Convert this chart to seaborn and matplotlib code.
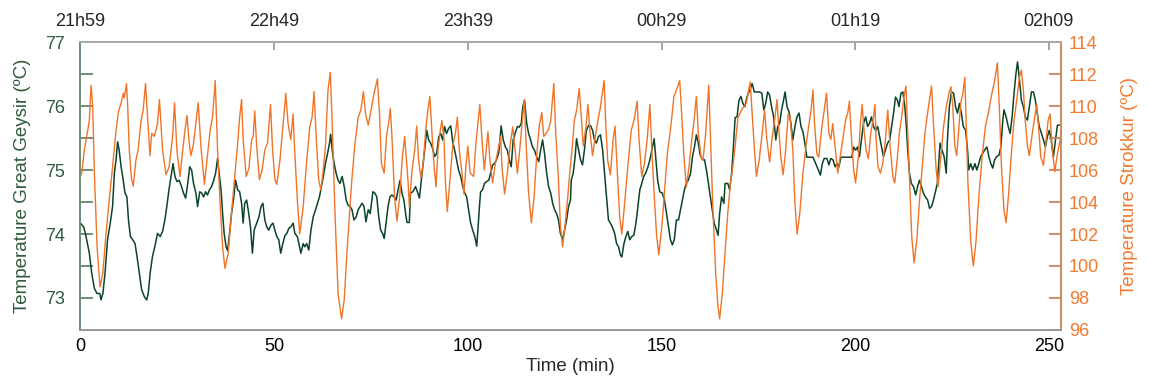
import numpy as np
import matplotlib
matplotlib.use("Agg")
import matplotlib.pyplot as plt
import seaborn as sns

# Strokkur (orange, right axis) - time in minutes, temperature in ºC
strokkur_t = [
    0.0, 0.35, 1.0, 1.9, 2.3, 2.74, 3.17, 3.6, 4.3, 5.06,
    5.75, 6.6, 7.5, 8.3, 9.2, 9.8, 10.5, 11.1, 11.3, 11.9,
    12.2, 12.6, 13.2, 13.65, 14.3, 14.9, 15.6, 16.2, 16.8, 17.35,
    17.95, 18.4, 19.1, 19.9, 20.4, 21.2, 22.1, 22.9, 23.8, 24.3,
    24.9, 25.7, 26.4, 27.0, 27.5, 28.0, 28.5, 29.1, 29.8, 30.4,
    31.1, 32.0, 32.65, 33.5, 34.1, 34.8, 35.4, 36.1, 36.7, 37.3,
    38.15, 39.0, 39.9, 40.6, 41.1, 41.6, 42.0, 42.8, 43.5, 44.2,
    44.6, 45.0, 45.5, 46.2, 46.9, 47.6, 48.3, 49.07, 49.6, 50.2,
    50.7, 51.5, 52.1, 52.5, 53.0, 53.6, 54.3, 54.9, 55.3, 56.0,
    56.6, 57.5, 58.35, 59.2, 59.8, 60.3, 60.9, 61.5, 62.05, 62.6,
    63.25, 63.9, 64.5, 65.0, 65.65, 66.5, 67.4, 68.1, 68.9, 70.0,
    70.8, 71.7, 72.4, 73.05, 73.6, 74.3, 74.9, 75.8, 76.66, 77.2,
    77.7, 78.4, 79.0, 79.6, 80.0, 80.45, 81.1, 81.7, 82.4, 83.1,
    83.7, 84.6, 84.9, 85.6, 86.3, 86.8, 87.3, 87.9, 88.5, 89.2,
    89.7, 90.2, 90.75, 91.3, 91.8, 92.3, 92.8, 93.3, 93.85, 94.2,
    94.7, 95.4, 96.1, 96.8, 97.3, 97.8, 98.5, 99.0, 99.5, 100.0,
    100.6, 101.5, 102.1, 102.6, 103.1, 103.65, 104.25, 104.85, 105.2, 105.7,
    106.4, 107.1, 107.8, 108.5, 108.8, 109.5, 110.2, 110.9, 111.6, 112.2,
    112.8, 113.4, 114.0, 114.6, 115.0, 115.7, 116.4, 117.1, 117.75, 118.4,
    119.1, 119.6, 120.2, 120.8, 121.4, 122.2, 122.7, 123.4, 123.9, 124.45,
    125.1, 125.8, 126.3, 126.9, 127.5, 128.1, 128.75, 129.3, 129.8, 130.5,
    131.0, 131.5, 132.2, 132.9, 133.6, 134.25, 134.6, 135.2, 135.6, 136.1,
    136.8, 137.5, 138.0, 138.6, 139.2, 139.75, 140.4, 141.3, 142.2, 142.9,
    143.7, 144.2, 144.9, 145.6, 146.3, 147.0, 147.5, 148.2, 148.7, 149.3,
    150.1, 150.8, 151.5, 152.4, 153.2, 153.85, 154.7, 155.2, 155.8, 156.4,
    157.1, 157.8, 158.4, 159.0, 159.5, 160.2, 160.7, 161.4, 162.2, 162.6,
    163.3, 164.0, 164.5, 165.0, 165.7, 166.4, 167.1, 167.8, 168.5, 168.9,
    169.75, 170.9, 171.9, 172.9, 173.4, 174.0, 174.5, 175.2, 175.9, 176.6,
    177.2, 177.9, 178.6, 179.3, 179.8, 180.3, 180.8, 181.4, 182.05, 182.7,
    183.2, 183.9, 184.4, 185.0, 185.7, 186.5, 187.4, 188.1, 188.7, 189.1,
    189.5, 190.1, 190.6, 191.3, 192.0, 192.6, 193.2, 193.7, 194.2, 194.8,
    195.5, 196.1, 196.8, 197.5, 198.1, 198.5, 199.1, 199.6, 200.1, 200.8,
    201.4, 201.8, 202.2, 202.8, 203.4, 204.0, 204.6, 205.1, 205.4, 205.9,
    206.5, 207.1, 207.8, 208.4, 209.0, 209.7, 210.2, 210.9, 211.4, 212.1,
    212.6, 213.1, 213.5, 214.0, 214.6, 215.2, 215.9, 216.6, 217.3, 218.0,
    218.65, 219.2, 219.7, 220.2, 220.9, 221.4, 222.1, 222.8, 223.5, 224.2,
    224.7, 225.2, 225.7, 226.2, 226.7, 227.25, 227.8, 228.3, 228.6, 229.1,
    229.8, 230.5, 231.2, 231.9, 232.75, 233.6, 234.5, 235.3, 236.0, 236.7,
    237.2, 237.75, 238.4, 238.95, 239.6, 240.3, 241.0, 241.7, 242.4, 242.9,
    243.4, 243.9, 244.45, 244.96, 245.6, 246.2, 246.85, 247.4, 247.9, 248.6,
    249.3, 249.8, 250.3, 250.8, 251.5, 252.2, 252.9,
]
strokkur_temp = [
    105.6, 105.8, 107.25, 108.5, 109.1, 111.3, 110.0, 105.8, 101.2, 98.7,
    99.5, 102.0, 104.3, 106.2, 108.5, 109.6, 110.2, 110.8, 110.5, 111.4,
    110.0, 107.25, 105.4, 105.0, 106.6, 107.25, 109.0, 109.75, 111.4, 109.3,
    106.9, 108.3, 108.1, 108.9, 110.4, 107.25, 105.7, 106.2, 108.1, 110.2,
    107.25, 105.6, 107.25, 108.5, 109.4, 107.9, 106.9, 107.5, 108.9, 110.2,
    107.5, 105.1, 106.6, 108.5, 109.3, 111.6, 107.25, 103.7, 101.2, 99.85,
    100.8, 103.3, 105.8, 107.7, 109.3, 110.4, 107.9, 105.6, 106.1, 107.9,
    108.1, 109.7, 107.5, 105.4, 106.0, 107.25, 107.7, 110.1, 107.25, 105.4,
    105.1, 106.6, 108.3, 109.3, 110.8, 108.9, 107.9, 109.5, 107.25, 104.1,
    102.0, 103.7, 106.4, 108.7, 109.3, 110.9, 107.9, 105.4, 104.75, 105.8,
    107.5, 111.0, 112.1, 108.9, 103.7, 98.3, 96.7, 97.9, 101.2, 105.2,
    107.5, 109.3, 109.75, 110.9, 109.5, 108.8, 109.6, 110.8, 111.7, 109.5,
    106.4, 105.8, 108.1, 109.0, 109.85, 107.9, 104.3, 102.8, 104.3, 106.8,
    108.1, 105.2, 103.7, 106.0, 107.25, 108.75, 106.6, 105.5, 106.4, 108.7,
    109.75, 110.6, 108.3, 106.2, 104.95, 107.25, 108.3, 109.1, 107.9, 105.4,
    103.4, 105.4, 107.5, 108.3, 109.3, 107.25, 105.8, 104.5, 106.2, 107.5,
    105.8, 105.6, 107.7, 108.9, 110.1, 107.9, 106.0, 107.5, 108.4, 106.6,
    105.2, 106.4, 107.25, 108.1, 106.2, 104.5, 105.8, 107.5, 108.7, 107.25,
    105.8, 107.25, 108.9, 110.4, 107.9, 104.5, 102.7, 104.3, 106.8, 108.7,
    109.6, 108.1, 108.3, 108.5, 109.1, 111.4, 108.3, 105.4, 102.5, 101.2,
    102.5, 104.3, 105.8, 107.25, 109.1, 109.75, 111.1, 109.3, 107.5, 108.7,
    110.1, 108.5, 106.9, 108.1, 109.1, 109.95, 110.6, 111.6, 108.9, 106.6,
    105.7, 107.9, 108.75, 105.8, 103.1, 102.0, 103.7, 106.2, 108.5, 109.1,
    110.3, 107.9, 105.6, 106.4, 107.9, 110.1, 107.25, 104.1, 102.0, 100.7,
    102.5, 104.75, 107.0, 108.7, 110.6, 111.0, 111.6, 109.5, 106.8, 104.95,
    106.2, 107.9, 109.1, 110.6, 108.3, 106.8, 106.6, 108.3, 111.3, 108.3,
    103.3, 99.5, 97.7, 96.7, 98.3, 100.8, 103.3, 105.2, 106.4, 107.25,
    109.3, 109.85, 110.2, 111.5, 109.5, 107.25, 105.6, 106.6, 108.1, 109.75,
    107.9, 106.5, 108.1, 109.3, 110.4, 108.5, 106.8, 105.7, 107.25, 109.5,
    109.3, 107.25, 104.1, 102.0, 103.3, 105.8, 107.7, 108.9, 109.95, 111.0,
    108.9, 107.0, 106.8, 108.5, 109.75, 110.8, 108.3, 107.9, 108.9, 107.5,
    105.8, 106.8, 107.9, 109.1, 109.6, 110.3, 107.7, 106.0, 105.2, 106.8,
    109.1, 110.1, 108.7, 107.25, 106.7, 108.3, 109.1, 110.1, 107.9, 106.2,
    105.8, 106.4, 107.9, 109.75, 107.5, 105.6, 105.2, 106.8, 108.3, 109.5,
    110.6, 111.25, 108.7, 105.4, 101.8, 100.2, 101.6, 104.1, 106.2, 108.3,
    109.5, 110.4, 111.25, 108.9, 106.0, 104.95, 106.8, 108.7, 109.95, 110.8,
    111.2, 109.95, 107.5, 106.9, 108.5, 110.2, 110.8, 111.8, 109.3, 105.2,
    101.6, 100.0, 101.6, 104.3, 106.8, 108.7, 109.75, 110.8, 111.6, 112.7,
    109.95, 106.2, 103.5, 102.7, 104.5, 107.0, 109.1, 110.4, 111.8, 112.25,
    111.0, 109.1, 107.5, 106.9, 108.1, 109.1, 110.1, 108.5, 106.8, 106.3,
    107.9, 109.1, 109.5, 107.5, 105.9, 107.0, 107.9,
]

# Great Geysir (dark green, left axis)
geysir_t = [
    0.0, 0.85, 1.45, 2.3, 2.9, 3.6, 4.3, 5.0, 5.3, 5.8,
    6.35, 7.0, 7.7, 8.3, 8.75, 9.2, 9.6, 10.0, 10.5, 10.9,
    11.5, 12.0, 12.4, 12.9, 13.5, 14.1, 14.6, 15.2, 15.8, 16.5,
    17.1, 17.5, 18.0, 18.6, 19.2, 19.9, 20.6, 21.2, 21.8, 22.3,
    22.85, 23.4, 23.9, 24.4, 24.9, 25.5, 26.1, 26.6, 27.15, 27.7,
    28.2, 28.7, 29.2, 29.8, 30.25, 30.8, 31.3, 31.8, 32.3, 32.8,
    33.3, 33.85, 34.4, 34.9, 35.4, 35.8, 36.3, 36.7, 37.1, 37.6,
    38.0, 38.5, 39.0, 39.5, 40.05, 40.6, 41.1, 41.6, 42.0, 42.4,
    42.9, 43.3, 43.9, 44.4, 44.85, 45.5, 46.1, 46.6, 47.1, 47.6,
    48.1, 48.6, 49.2, 49.7, 50.2, 50.7, 51.2, 51.7, 52.25, 52.8,
    53.3, 53.8, 54.3, 54.9, 55.35, 56.0, 56.4, 56.9, 57.5, 57.9,
    58.4, 58.95, 59.5, 60.1, 60.7, 61.2, 61.7, 62.2, 62.7, 63.25,
    63.8, 64.3, 64.6, 65.0, 65.5, 66.0, 66.5, 67.0, 67.55, 68.1,
    68.6, 69.1, 69.6, 70.1, 70.6, 71.2, 71.7, 72.2, 72.7, 73.2,
    73.7, 74.3, 74.8, 75.5, 76.0, 76.5, 77.0, 77.5, 78.0, 78.4,
    78.9, 79.4, 79.9, 80.4, 80.95, 81.5, 82.0, 82.5, 83.0, 83.5,
    84.05, 84.3, 84.9, 85.2, 85.8, 86.5, 87.0, 87.5, 88.0, 88.35,
    88.9, 89.4, 89.9, 90.4, 90.9, 91.45, 91.96, 92.5, 93.0, 93.5,
    94.0, 94.5, 95.05, 95.6, 96.1, 96.6, 97.1, 97.6, 98.15, 98.7,
    99.2, 99.7, 100.2, 100.7, 101.25, 101.8, 102.3, 102.6, 103.0, 103.3,
    103.8, 104.3, 104.85, 105.4, 105.9, 106.4, 106.9, 107.4, 107.95, 108.3,
    108.6, 109.15, 109.7, 110.2, 110.7, 111.2, 111.7, 112.2, 112.8, 113.3,
    113.8, 114.2, 114.65, 115.2, 115.7, 116.2, 116.7, 117.2, 117.75, 118.3,
    118.8, 119.3, 119.8, 120.35, 120.85, 121.4, 121.9, 122.4, 122.9, 123.4,
    123.9, 124.45, 124.95, 125.5, 126.0, 126.5, 126.7, 127.2, 127.7, 128.06,
    128.6, 129.1, 129.6, 130.1, 130.6, 131.2, 131.7, 132.2, 132.7, 133.2,
    133.7, 134.25, 134.8, 135.3, 135.8, 136.3, 136.8, 137.3, 137.9, 138.4,
    138.9, 139.4, 139.75, 140.3, 140.8, 141.3, 141.8, 142.3, 142.85, 143.4,
    143.9, 144.4, 144.9, 145.4, 145.9, 146.5, 147.0, 147.5, 148.1, 148.5,
    149.0, 149.55, 150.2, 150.75, 151.3, 151.8, 152.3, 152.8, 153.3, 153.85,
    154.4, 154.9, 155.4, 155.9, 156.4, 156.9, 157.5, 158.0, 158.5, 159.0,
    159.5, 160.0, 160.6, 161.1, 161.6, 162.1, 162.6, 163.1, 163.6, 164.2,
    164.6, 165.0, 165.5, 166.1, 166.4, 167.1, 167.6, 168.1, 168.5, 169.0,
    169.5, 170.0, 170.5, 171.0, 171.5, 172.1, 172.8, 173.4, 173.95, 174.6,
    175.3, 175.9, 176.4, 176.9, 177.4, 177.9, 178.4, 178.95, 179.5, 180.0,
    180.5, 181.0, 181.5, 181.9, 182.4, 182.9, 183.4, 183.9, 184.45, 184.95,
    185.5, 186.0, 186.5, 187.0, 187.5, 189.1, 189.8, 190.5, 191.0, 191.5,
    192.0, 192.7, 193.2, 193.7, 194.25, 194.8, 195.3, 195.8, 196.3, 199.1,
    199.6, 200.1, 200.6, 201.1, 201.6, 202.15, 202.7, 203.2, 203.7, 204.2,
    204.7, 205.25, 205.8, 206.3, 206.8, 207.3, 207.8, 208.35, 208.9, 209.4,
    209.9, 210.4, 210.9, 211.3, 211.8, 212.3, 212.8, 213.2, 213.5, 214.0,
    214.5, 215.05, 215.6, 216.1, 216.6, 217.1, 217.6, 218.1, 218.7, 219.2,
    219.7, 220.2, 220.7, 221.2, 221.6, 221.9, 222.4, 222.95, 223.5, 223.8,
    224.3, 224.85, 225.4, 225.9, 226.4, 226.9, 227.4, 227.9, 228.5, 229.0,
    229.3, 229.8, 230.35, 230.9, 231.4, 231.9, 232.4, 232.9, 233.4, 234.0,
    234.5, 235.0, 235.5, 236.0, 236.5, 237.1, 237.6, 238.1, 238.4, 238.95,
    239.5, 240.0, 240.5, 241.0, 241.5, 241.9, 242.4, 242.9, 243.4, 243.9,
    244.45, 244.96, 245.5, 246.0, 246.5, 247.0, 247.5, 248.1, 248.6, 249.1,
    249.6, 250.1, 250.6, 251.15, 251.7, 252.2, 252.7,
]
geysir_temp = [
    74.17, 74.11, 73.96, 73.70, 73.39, 73.15, 73.07, 73.07, 72.97, 73.07,
    73.39, 73.91, 74.17, 74.43, 74.95, 75.16, 75.44, 75.31, 75.05, 74.90,
    74.64, 74.58, 74.22, 73.96, 73.91, 73.85, 73.65, 73.39, 73.13, 73.02,
    72.97, 73.07, 73.39, 73.65, 73.80, 74.01, 73.96, 74.04, 74.22, 74.43,
    74.69, 74.90, 75.10, 74.90, 74.82, 74.84, 74.74, 74.64, 74.56, 74.79,
    75.05, 75.0, 74.79, 74.64, 74.43, 74.66, 74.64, 74.58, 74.66, 74.61,
    74.69, 74.74, 74.84, 74.95, 75.18, 74.95, 74.69, 74.32, 74.01, 73.80,
    73.74, 74.01, 74.32, 74.53, 74.84, 74.69, 74.66, 74.48, 74.17, 74.48,
    74.53, 74.38, 74.11, 73.70, 74.06, 74.17, 74.27, 74.43, 74.48, 74.22,
    74.11, 74.06, 74.14, 74.17, 74.06, 73.96, 73.91, 73.70, 73.85, 73.98,
    74.01, 74.09, 74.11, 74.17, 74.01, 73.96, 73.85, 73.70, 73.85, 73.80,
    73.85, 73.75, 74.06, 74.27, 74.38, 74.48, 74.58, 74.74, 74.90, 75.10,
    75.26, 75.42, 75.56, 75.31, 75.10, 74.95, 74.84, 74.79, 74.90, 74.74,
    74.53, 74.45, 74.43, 74.38, 74.22, 74.27, 74.38, 74.43, 74.48, 74.43,
    74.19, 74.38, 74.32, 74.66, 74.64, 74.58, 74.27, 74.06, 74.01, 73.93,
    74.17, 74.43, 74.58, 74.61, 74.58, 74.53, 74.69, 74.84, 74.64, 74.53,
    74.27, 74.18, 74.18, 74.64, 74.66, 74.74, 74.66, 74.56, 74.84, 75.05,
    75.36, 75.62, 75.47, 75.42, 75.34, 75.21, 75.26, 75.52, 75.57, 75.47,
    75.68, 75.57, 75.65, 75.69, 75.44, 75.31, 75.16, 75.0, 74.90, 74.74,
    74.64, 74.58, 74.38, 74.18, 74.06, 73.96, 73.81, 74.06, 74.43, 74.66,
    74.69, 74.79, 74.82, 74.84, 74.95, 75.08, 75.10, 75.16, 75.26, 75.47,
    75.69, 75.47, 75.36, 75.31, 75.16, 75.05, 75.47, 75.57, 75.68, 75.67,
    75.73, 75.99, 76.09, 75.73, 75.57, 75.47, 75.36, 75.31, 75.21, 75.13,
    75.31, 75.47, 75.26, 74.95, 74.74, 74.64, 74.48, 74.38, 74.32, 74.22,
    74.01, 73.91, 74.06, 74.22, 74.43, 74.53, 74.84, 74.95, 75.21, 75.49,
    75.31, 75.16, 75.08, 75.31, 75.62, 75.70, 75.69, 75.62, 75.47, 75.42,
    75.52, 75.55, 75.31, 74.95, 74.58, 74.22, 74.17, 74.11, 74.01, 73.85,
    73.80, 73.67, 73.64, 73.85, 73.96, 74.04, 73.91, 73.96, 73.98, 74.17,
    74.43, 74.69, 74.79, 74.90, 74.95, 75.05, 75.16, 75.31, 75.49, 75.21,
    74.84, 74.66, 74.64, 74.53, 74.32, 74.11, 73.91, 73.83, 73.91, 74.22,
    74.22, 74.38, 74.53, 74.69, 74.79, 74.84, 74.95, 75.21, 75.36, 75.55,
    75.42, 75.23, 75.16, 75.16, 75.0, 74.79, 74.58, 74.38, 74.17, 74.06,
    73.98, 74.32, 74.58, 74.48, 74.79, 74.79, 74.69, 74.95, 75.31, 75.82,
    75.83, 76.09, 76.15, 76.04, 75.99, 76.15, 76.25, 76.35, 76.22, 76.22,
    76.22, 76.20, 75.94, 76.04, 76.22, 76.17, 75.99, 75.83, 75.47, 75.68,
    75.73, 75.94, 76.09, 76.22, 75.99, 75.91, 75.73, 75.47, 75.68, 75.83,
    75.89, 75.68, 75.60, 75.42, 75.20, 75.20, 75.10, 75.0, 74.92, 75.10,
    75.18, 75.18, 75.08, 75.18, 75.16, 75.05, 75.10, 75.05, 75.20, 75.20,
    75.36, 75.31, 75.36, 75.21, 75.47, 75.73, 75.83, 75.68, 75.73, 75.83,
    75.68, 75.62, 75.68, 75.52, 75.36, 75.21, 75.31, 75.42, 75.47, 75.68,
    75.89, 76.14, 76.09, 75.99, 76.20, 76.22, 75.99, 75.68, 75.36, 74.95,
    74.79, 74.74, 74.61, 74.74, 74.84, 74.74, 74.64, 74.58, 74.53, 74.40,
    74.43, 74.53, 74.66, 74.79, 75.16, 75.42, 75.31, 75.21, 74.95, 75.47,
    75.99, 76.22, 76.20, 75.99, 75.89, 76.04, 75.89, 75.68, 75.62, 75.31,
    75.0, 75.10, 75.0, 75.10, 75.0, 75.10, 75.21, 75.26, 75.31, 75.36,
    75.21, 75.10, 75.03, 75.16, 75.21, 75.23, 75.36, 75.78, 75.94, 75.83,
    75.68, 75.57, 75.83, 76.20, 76.51, 76.69, 76.41, 76.09, 75.99, 75.83,
    75.78, 75.99, 76.22, 76.22, 76.09, 75.89, 75.68, 75.57, 75.47, 75.36,
    75.52, 75.62, 75.47, 75.20, 75.47, 75.70, 75.70,
]

time_ticks = [0, 50, 100, 150, 200, 250]
clock_labels = ["21h59", "22h49", "23h39", "00h29", "01h19", "02h09"]

green = "#0b4428"
orange = "#f07428"
green_txt = "#2f5a3c"
orange_txt = "#f07a30"

sns.set_theme(style="white")
plt.rcParams["font.family"] = ["Liberation Sans Narrow", "Liberation Sans", "DejaVu Sans"]

fig = plt.figure(figsize=(11.49, 3.83), dpi=100)
ax = fig.add_axes([0.0700, 0.1384, 0.8530, 0.7519])
ax2 = ax.twinx()

sns.lineplot(x=geysir_t, y=geysir_temp, ax=ax, color=green, linewidth=1.1)
sns.lineplot(x=strokkur_t, y=strokkur_temp, ax=ax2, color=orange, linewidth=1.0)

ax.set_xlim(0, 253)
ax.set_ylim(72.5, 77)
ax2.set_ylim(96, 114)

ax.set_xticks(time_ticks)
ax.set_xticklabels([str(t) for t in time_ticks])
yt = np.arange(73, 77.01, 0.5)
ax.set_yticks(yt)
ax.set_yticklabels([f"{v:.0f}" if v == int(v) else "" for v in yt])
ax2.set_yticks(np.arange(96, 114.1, 2))

ax.tick_params(axis="x", direction="in", length=6, top=True, labelsize=13,
               colors="#999999", labelcolor="black", pad=6)
ax.tick_params(axis="y", direction="in", length=9, labelsize=13,
               colors="#5f7f68", labelcolor=green_txt, pad=11)
ax2.tick_params(axis="y", direction="in", length=9, labelsize=13,
                colors="#d08050", labelcolor=orange_txt, pad=6)

ax.set_xlabel("Time (min)", fontsize=13.5, labelpad=2)
ax.set_ylabel("Temperature Great Geysir (ºC)", fontsize=13.5, color=green_txt, labelpad=10)
ax2.set_ylabel("Temperature Strokkur (ºC)", fontsize=13.5, color=orange_txt, labelpad=16)

top = ax.secondary_xaxis("top")
top.set_xticks(time_ticks)
top.set_xticklabels(clock_labels)
top.tick_params(length=0, labelsize=13, pad=9)

for a in (ax, ax2):
    a.spines["top"].set_color("#aaaaaa")
    a.spines["bottom"].set_color("#999999")
    a.spines["left"].set_color("#6f8f78")
    a.spines["right"].set_color("#d08a5a")
top.spines["top"].set_visible(False)

plt.savefig("out.png", dpi=100)
